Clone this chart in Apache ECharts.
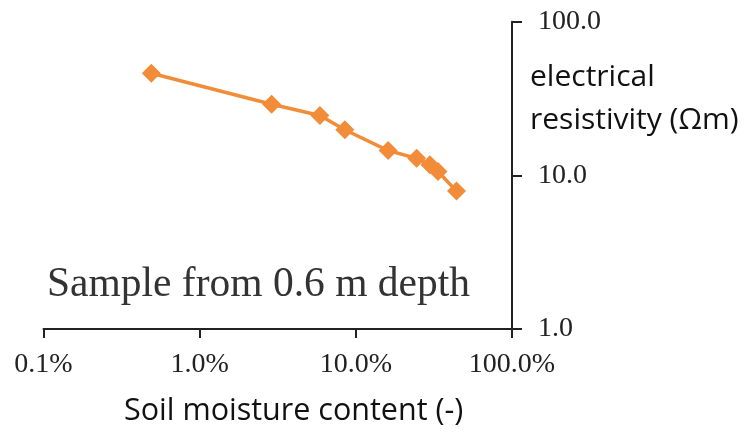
<!DOCTYPE html>
<html>
<head>
<meta charset="utf-8">
<script src="https://cdn.jsdelivr.net/npm/echarts@6/dist/echarts.min.js"></script>
<style>
html, body { margin: 0; padding: 0; background: #fff; }
#chart { width: 752px; height: 439px; }
</style>
</head>
<body>
<div id="chart"></div>
<script>
// soil moisture content in percent, resistivity in ohm metre
var moisture = [0.49, 2.89, 5.89, 8.5, 16.1, 24.5, 29.8, 33.6, 44.1];
var resistivity = [46.2, 29.0, 24.5, 19.8, 14.5, 12.9, 11.7, 10.6, 7.9];

var seriesData = [];
for (var i = 0; i < moisture.length; i++) {
	seriesData.push([moisture[i], resistivity[i]]);
}

var chart = echarts.init(document.getElementById('chart'));
var serif = '"Liberation Serif", "Times New Roman", serif';
var sans = '"Open Sans", "Noto Sans", sans-serif';

var option = {
	animation: false,
	grid: {
		left: 43.5,
		right: 240,
		top: 21.7,
		bottom: 110
	},
	xAxis: {
		type: 'log',
		logBase: 10,
		min: 0.1,
		max: 100,
		splitLine: { show: false },
		axisLine: { lineStyle: { color: '#222', width: 2 } },
		axisTick: { inside: false, length: 9, lineStyle: { color: '#222', width: 2 } },
		minorTick: { show: false },
		axisLabel: {
			color: '#222',
			fontFamily: serif,
			fontSize: 28,
			margin: 22,
			formatter: function (v) {
				return v.toFixed(1) + '%';
			}
		}
	},
	yAxis: {
		type: 'log',
		logBase: 10,
		min: 1,
		max: 100,
		position: 'right',
		splitLine: { show: false },
		axisLine: { show: true, lineStyle: { color: '#222', width: 2 } },
		axisTick: { show: true, inside: false, length: 10, lineStyle: { color: '#222', width: 2 } },
		axisLabel: {
			color: '#222',
			fontFamily: serif,
			fontSize: 28,
			margin: 26,
			formatter: function (v) {
				return v.toFixed(1);
			}
		}
	},
	series: [{
		type: 'line',
		data: seriesData,
		symbol: 'diamond',
		symbolSize: 19,
		itemStyle: { color: '#F28C38' },
		lineStyle: { color: '#F28C38', width: 3.5 }
	}],
	graphic: [{
		type: 'text',
		left: 47,
		top: 264,
		style: {
			text: 'Sample from 0.6 m depth',
			font: '41.5px ' + serif,
			fill: '#333'
		}
	}, {
		type: 'text',
		left: 530,
		top: 56,
		style: {
			text: 'electrical\nresistivity (\u03A9m)',
			font: '30px ' + sans,
			lineHeight: 43,
			fill: '#111'
		}
	}, {
		type: 'text',
		left: 124,
		top: 396,
		style: {
			text: 'Soil moisture content (-)',
			font: '30.5px ' + sans,
			fill: '#111'
		}
	}]
};
chart.setOption(option);
</script>
</body>
</html>
